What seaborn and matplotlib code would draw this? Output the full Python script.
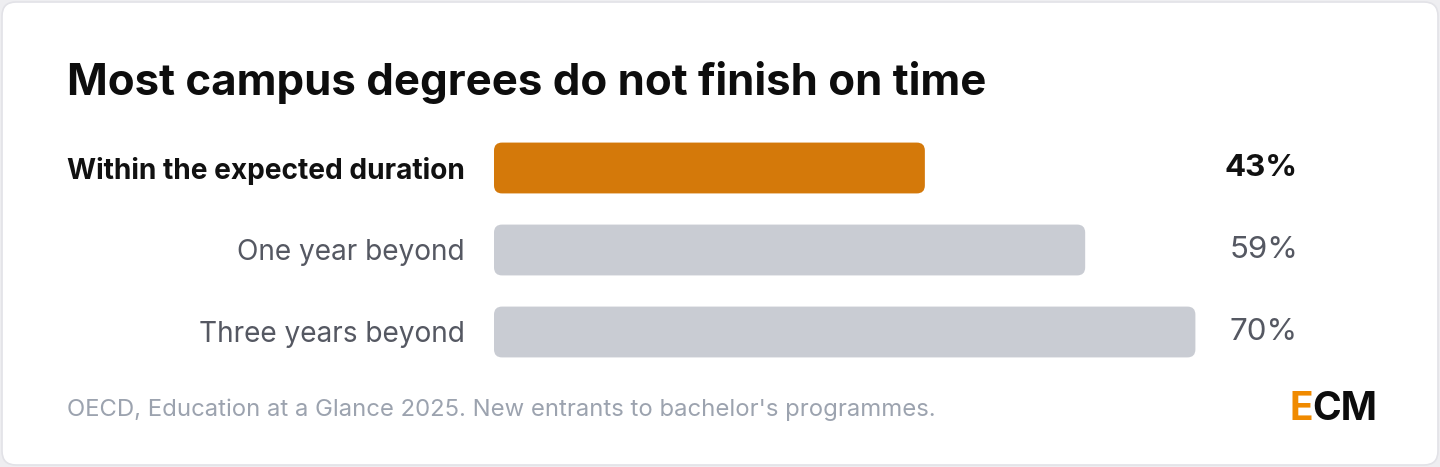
import matplotlib
matplotlib.use("Agg")
import matplotlib.pyplot as plt
import matplotlib.transforms as mtransforms
from matplotlib.patches import FancyBboxPatch
import pandas as pd
import seaborn as sns

# data
categories = ["Within the expected duration", "One year beyond", "Three years beyond"]
shares = [43, 59, 70]
value_labels = ["43%", "59%", "70%"]
highlight = "Within the expected duration"

title = "Most campus degrees do not finish on time"
source = "OECD, Education at a Glance 2025. New entrants to bachelor's programmes."

ORANGE = "#d4790a"
GREY_BAR = "#c9ccd3"
GREY_TXT = "#555862"

sns.set_theme(style="white")
plt.rcParams["font.family"] = ["Inter", "DejaVu Sans"]

W, H = 1440, 467
fig = plt.figure(figsize=(W / 100, H / 100), dpi=100)
fig.patch.set_facecolor("#eeeef1")

# white card behind everything
card = FancyBboxPatch((2, 2), W - 4, H - 4, boxstyle="round,pad=0,rounding_size=14",
                      transform=None, facecolor="white", edgecolor="#e2e2e7",
                      linewidth=1.2, zorder=-10)
fig.patches.append(card)

# axes: bars start at x=494, 100% would be at x=1496
ax = fig.add_axes([494 / W, (H - 373) / H, 1002 / W, 246 / H])
ax.set_facecolor("none")

df = pd.DataFrame({"cat": categories, "share": shares})
palette = {c: (ORANGE if c == highlight else GREY_BAR) for c in categories}
sns.barplot(data=df, x="share", y="cat", hue="cat", palette=palette,
            width=0.62, legend=False, ax=ax, saturation=1)
ax.set_xlim(0, 100)
ax.set_ylim(2.5, -0.5)
sns.despine(ax=ax, left=True, bottom=True)
ax.set_xticks([])
ax.set_xlabel("")
ax.set_ylabel("")
ax.tick_params(axis="y", length=0, pad=21, labelsize=20.2)
for lab in ax.get_yticklabels():
    if lab.get_text() == highlight:
        lab.set_fontweight("bold")
        lab.set_color("#111111")
    else:
        lab.set_color(GREY_TXT)

# replace square bars with rounded ones (pixel space)
for p in list(ax.patches):
    x0, y0 = p.get_x(), p.get_y()
    (px0, py0), (px1, py1) = ax.transData.transform([(x0, y0), (x0 + p.get_width(), y0 + p.get_height())])
    lo, hi = min(py0, py1), max(py0, py1)
    fig.patches.append(FancyBboxPatch((px0, lo), px1 - px0, hi - lo,
                                      boxstyle="round,pad=0,rounding_size=8",
                                      transform=None, facecolor=p.get_facecolor(),
                                      edgecolor="none", zorder=1))
    p.set_visible(False)

# value labels
trans = mtransforms.blended_transform_factory(fig.transFigure, ax.transData)
for i, (cat, lab) in enumerate(zip(categories, value_labels)):
    bold = cat == highlight
    ax.text(1298 / W, i, lab, transform=trans, ha="right", va="center",
            fontsize=22.5, fontweight="bold" if bold else "normal",
            color="#111111" if bold else GREY_TXT)

fig.text(67 / W, 1 - 83 / H, title, fontsize=31.5, fontweight="bold",
         color="#0d0d0d", ha="left", va="center")
fig.text(67 / W, 1 - 410 / H, source, fontsize=17.2, color="#9ca3af",
         ha="left", va="center")

# logo
logo = fig.text(1289 / W, 1 - 410 / H, "E", fontsize=28, fontweight="bold",
                color="#f08a00", ha="left", va="center")
fig.canvas.draw()
bb = logo.get_window_extent()
fig.text(bb.x1 / W, 1 - 410 / H, "CM", fontsize=28, fontweight="bold",
         color="#0d0d0d", ha="left", va="center")

fig.savefig("out.png", dpi=100, facecolor=fig.get_facecolor())
